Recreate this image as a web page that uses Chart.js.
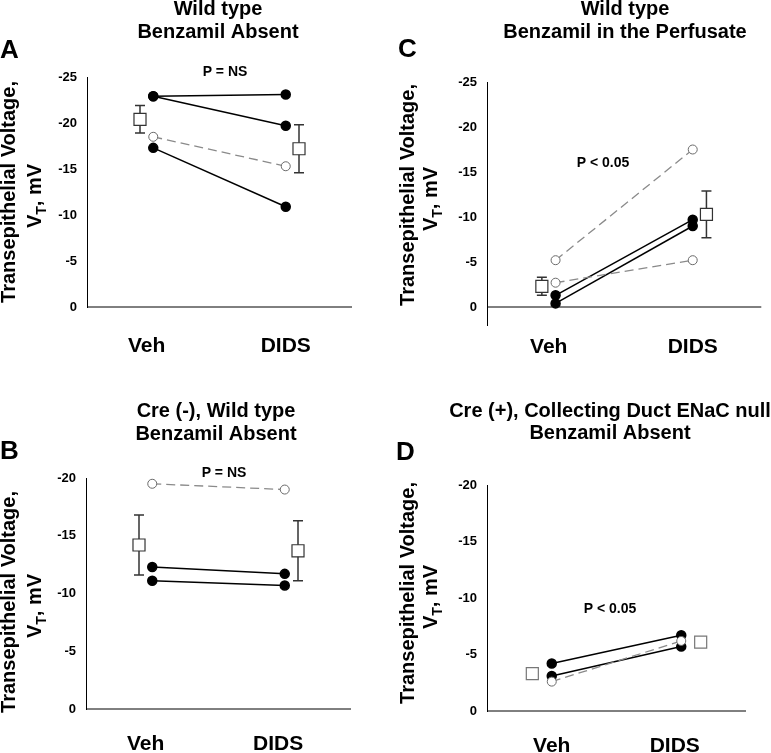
<!DOCTYPE html>
<html>
<head>
<meta charset="utf-8">
<script src="https://cdn.jsdelivr.net/npm/chart.js@4.4.1/dist/chart.umd.min.js"></script>
<style>
body { margin: 0; background: #fff; }
#wrap { position: relative; width: 771px; height: 753px; }
.panel { position: absolute; }
</style>
</head>
<body>
<div id="wrap">
  <div class="panel" style="left:0;top:0;width:385px;height:365px"><canvas id="chartA"></canvas></div>
  <div class="panel" style="left:385px;top:0;width:386px;height:365px"><canvas id="chartC"></canvas></div>
  <div class="panel" style="left:0;top:365px;width:385px;height:388px"><canvas id="chartB"></canvas></div>
  <div class="panel" style="left:385px;top:365px;width:386px;height:388px"><canvas id="chartD"></canvas></div>
</div>
<script>
// categories
var categories = ['Veh', 'DIDS'];

// panel A - wild type, benzamil absent (mV, Veh -> DIDS)
var aSolid = [[-22.9, -23.1], [-22.9, -19.7], [-17.3, -10.9]];
var aDashed = [[-18.5, -15.3]];
var aMean = [-20.4, -17.2];
var aSem = [1.5, 2.6];

// panel C - wild type, benzamil in the perfusate
var cSolid = [[-1.3, -9.7], [-0.4, -9.0]];
var cDashed = [[-5.2, -17.5], [-2.7, -5.2]];
var cMean = [-2.3, -10.3];
var cSem = [1.0, 2.6];

// panel B - Cre (-), wild type
var bSolid = [[-12.3, -11.7], [-11.1, -10.7]];
var bDashed = [[-19.5, -19.0]];
var bMean = [-14.2, -13.7];
var bSem = [2.6, 2.6];

// panel D - Cre (+), collecting duct ENaC null
var dSolid = [[-4.2, -6.7], [-3.1, -5.7]];
var dDashed = [[-2.6, -6.2]];
var dMean = [-3.3, -6.1];
var dSem = [0, 0];

var FONT = '"Liberation Sans", Arial, Helvetica, sans-serif';
var X_VEH = 1, X_DIDS = 3;

function bold(size) { return 'bold ' + size + 'px ' + FONT; }

function drawYTitle(ctx, p) {
  ctx.save();
  ctx.fillStyle = '#000';
  ctx.textBaseline = 'alphabetic';
  ctx.textAlign = 'left';
  // line 1
  ctx.save();
  ctx.translate(p.yTitleX[0], p.yTitleY);
  ctx.rotate(-Math.PI / 2);
  ctx.font = bold(20);
  var l1 = 'Transepithelial Voltage,';
  ctx.fillText(l1, -ctx.measureText(l1).width / 2, 0);
  ctx.restore();
  // line 2 with subscript
  ctx.save();
  ctx.translate(p.yTitleX[1], p.yTitleY + 4);
  ctx.rotate(-Math.PI / 2);
  ctx.font = bold(20);
  var wV = ctx.measureText('V').width;
  var wRest = ctx.measureText(', mV').width;
  ctx.font = bold(14);
  var wT = ctx.measureText('T').width;
  var x0 = -(wV + wT + wRest) / 2;
  ctx.font = bold(20);
  ctx.fillText('V', x0, 0);
  ctx.font = bold(14);
  ctx.fillText('T', x0 + wV, 5);
  ctx.font = bold(20);
  ctx.fillText(', mV', x0 + wV + wT, 0);
  ctx.restore();
  ctx.restore();
}

function buildPanel(p) {
  var datasets = [];
  datasets.push({
    label: 'mean',
    data: p.mean.map(function (v, i) { return { x: p.meanX[i], y: v }; }),
    showLine: false,
    pointStyle: 'rect',
    pointRadius: 8.5,
    pointBackgroundColor: '#fff',
    pointBorderColor: p.squareColor,
    pointBorderWidth: 1.2,
    clip: false
  });
  // open circles sit on top of the filled ones
  p.dashed.forEach(function (s) {
    datasets.push({
      data: [{ x: X_VEH, y: s[0] }, { x: X_DIDS, y: s[1] }],
      showLine: true,
      borderColor: '#8a8a8a',
      borderWidth: 1.3,
      borderDash: [9, 5],
      pointRadius: 4.5,
      pointBackgroundColor: '#fff',
      pointBorderColor: '#6a6a6a',
      pointBorderWidth: 1,
      clip: false
    });
  });
  p.solid.forEach(function (s) {
    datasets.push({
      data: [{ x: X_VEH, y: s[0] }, { x: X_DIDS, y: s[1] }],
      showLine: true,
      borderColor: '#000',
      borderWidth: 1.5,
      pointRadius: 4.5,
      pointBackgroundColor: '#000',
      pointBorderColor: '#000',
      clip: false
    });
  });

  var extras = {
    id: 'extras',
    beforeDatasetsDraw: function (chart) {
      var ctx = chart.ctx, xs = chart.scales.x, ys = chart.scales.y, area = chart.chartArea;
      ctx.save();
      // zero line (x axis)
      var y0 = ys.getPixelForValue(0);
      ctx.strokeStyle = '#000';
      ctx.lineWidth = 1;
      ctx.beginPath();
      ctx.moveTo(area.left, y0);
      ctx.lineTo(area.right, y0);
      ctx.stroke();
      // error bars behind the mean squares
      ctx.strokeStyle = '#333';
      ctx.lineWidth = 1.5;
      p.mean.forEach(function (m, i) {
        if (!p.sem[i]) return;
        var x = xs.getPixelForValue(p.meanX[i]);
        var yt = ys.getPixelForValue(m - p.sem[i]);
        var yb = ys.getPixelForValue(m + p.sem[i]);
        ctx.beginPath();
        ctx.moveTo(x, yt); ctx.lineTo(x, yb);
        ctx.moveTo(x - 5, yt); ctx.lineTo(x + 5, yt);
        ctx.moveTo(x - 5, yb); ctx.lineTo(x + 5, yb);
        ctx.stroke();
      });
      ctx.restore();
    },
    afterDraw: function (chart) {
      var ctx = chart.ctx, xs = chart.scales.x;
      ctx.save();
      ctx.fillStyle = '#000';
      ctx.textBaseline = 'alphabetic';
      ctx.textAlign = 'center';
      ctx.font = bold(20);
      p.title.forEach(function (t, i) { ctx.fillText(t, p.titleX, p.titleY[i]); });
      ctx.font = bold(14);
      ctx.fillText(p.pText, p.pX, p.pY);
      ctx.font = bold(21);
      categories.forEach(function (c, i) {
        ctx.fillText(c, xs.getPixelForValue(p.catX[i]), p.catY);
      });
      ctx.textAlign = 'left';
      ctx.font = bold(26);
      ctx.fillText(p.letter, p.letterX, p.letterY);
      ctx.restore();
      drawYTitle(ctx, p);
    }
  };

  return new Chart(document.getElementById(p.id), {
    type: 'scatter',
    data: { datasets: datasets },
    options: {
      responsive: true,
      maintainAspectRatio: false,
      animation: false,
      events: [],
      layout: { padding: { left: 0, top: p.pad.top, right: p.pad.right, bottom: p.pad.bottom } },
      plugins: { legend: { display: false }, tooltip: { enabled: false } },
      scales: {
        x: { type: 'linear', min: 0, max: 4, display: false },
        y: {
          type: 'linear',
          reverse: true,
          min: p.yMin,
          max: p.yMax,
          afterFit: function (s) { s.width = p.axisW; },
          afterBuildTicks: function (s) { s.ticks = s.ticks.filter(function (t) { return t.value <= 0; }); },
          grid: { display: false, drawTicks: false },
          border: { display: true, color: '#000', width: 1 },
          ticks: { stepSize: 5, padding: 10, color: '#000', font: { family: FONT, size: 13, weight: 'bold' } }
        }
      }
    },
    plugins: [extras]
  });
}

buildPanel({
  id: 'chartA', solid: aSolid, dashed: aDashed, mean: aMean, sem: aSem,
  yMin: -25, yMax: 0, axisW: 87, pad: { top: 77, right: 33, bottom: 58 },
  meanX: [0.8, 3.2], catX: [0.9, 3.0], catY: 352, squareColor: '#333',
  title: ['Wild type', 'Benzamil Absent'], titleX: 218, titleY: [15, 38],
  letter: 'A', letterX: 0, letterY: 58, pText: 'P = NS', pX: 225, pY: 76,
  yTitleX: [15, 41], yTitleY: 192
});

buildPanel({
  id: 'chartC', solid: cSolid, dashed: cDashed, mean: cMean, sem: cSem,
  yMin: -25, yMax: 2, axisW: 102, pad: { top: 82, right: 4, bottom: 40 },
  meanX: [0.8, 3.2], catX: [0.9, 3.0], catY: 353, squareColor: '#333',
  title: ['Wild type', 'Benzamil in the Perfusate'], titleX: 240, titleY: [15, 38],
  letter: 'C', letterX: 13, letterY: 57, pText: 'P < 0.05', pX: 218, pY: 167,
  yTitleX: [29, 52], yTitleY: 195
});

buildPanel({
  id: 'chartB', solid: bSolid, dashed: bDashed, mean: bMean, sem: bSem,
  yMin: -20, yMax: 0, axisW: 86, pad: { top: 113, right: 34, bottom: 44 },
  meanX: [0.8, 3.2], catX: [0.9, 2.9], catY: 385, squareColor: '#333',
  title: ['Cre (-), Wild type', 'Benzamil Absent'], titleX: 216, titleY: [52, 75],
  letter: 'B', letterX: 0, letterY: 94, pText: 'P = NS', pX: 224, pY: 112,
  yTitleX: [15, 41], yTitleY: 237
});

buildPanel({
  id: 'chartD', solid: dSolid, dashed: dDashed, mean: dMean, sem: dSem,
  yMin: -20, yMax: 0, axisW: 102, pad: { top: 120, right: 25, bottom: 42 },
  meanX: [0.7, 3.3], catX: [1.0, 2.9], catY: 387, squareColor: '#777',
  title: ['Cre (+), Collecting Duct ENaC null', 'Benzamil Absent'], titleX: 225, titleY: [52, 74],
  letter: 'D', letterX: 11, letterY: 95, pText: 'P < 0.05', pX: 225, pY: 248,
  yTitleX: [29, 52], yTitleY: 228
});
</script>
</body>
</html>
